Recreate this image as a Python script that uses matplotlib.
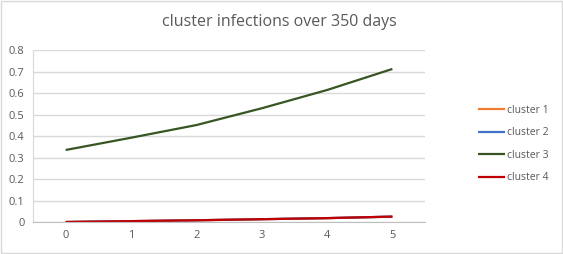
import matplotlib

matplotlib.use("Agg")
import matplotlib.pyplot as plt
from matplotlib.patches import Rectangle

days = [0, 1, 2, 3, 4, 5]
cluster_1 = [0.0, 0.004, 0.008, 0.013, 0.018, 0.025]
cluster_2 = [0.0, 0.004, 0.008, 0.013, 0.018, 0.025]
cluster_3 = [0.335, 0.392, 0.451, 0.529, 0.614, 0.712]
cluster_4 = [0.0, 0.004, 0.008, 0.013, 0.018, 0.025]
y_ticks = [0, 0.1, 0.2, 0.3, 0.4, 0.5, 0.6, 0.7, 0.8]

plt.rcParams["font.family"] = ["Open Sans", "DejaVu Sans"]
text_col = "#595959"
grid_col = "#d9d9d9"

fig = plt.figure(figsize=(5.63, 2.54), dpi=100)
fig.patches.append(Rectangle((0.002, 0.004), 0.996, 0.992, transform=fig.transFigure,
                             fill=False, edgecolor=grid_col, linewidth=1))
ax = fig.add_axes([0.0586, 0.126, 0.6964, 0.677])

series = [
    ("cluster 1", cluster_1, "#ed7d31"),
    ("cluster 2", cluster_2, "#4472c4"),
    ("cluster 3", cluster_3, "#375623"),
    ("cluster 4", cluster_4, "#c00000"),
]
for name, vals, col in series:
    ax.plot(days, vals, color=col, linewidth=1.6, label=name, solid_capstyle="butt")

ax.set_xlim(-0.5, 5.5)
ax.set_ylim(0, 0.8)
ax.set_xticks(days)
ax.set_yticks(y_ticks)
ax.set_yticklabels([f"{v:g}" for v in y_ticks])
ax.tick_params(length=0, labelsize=8, colors=text_col, pad=6)
ax.grid(axis="y", color=grid_col, linewidth=1)
ax.set_axisbelow(True)
for s in ["top", "right"]:
    ax.spines[s].set_visible(False)
ax.spines["left"].set_color(grid_col)
ax.spines["bottom"].set_color("#bfbfbf")

fig.text(0.497, 0.915, "cluster infections over 350 days", ha="center", va="center",
         fontsize=11.5, color=text_col)

leg = ax.legend(loc="center left", bbox_to_anchor=(1.135, 0.453), frameon=False,
                fontsize=7.5, handlelength=2.6, handletextpad=0.2, labelspacing=1.1,
                borderpad=0, borderaxespad=0)
for t in leg.get_texts():
    t.set_color(text_col)

fig.savefig("out.png", dpi=100)
